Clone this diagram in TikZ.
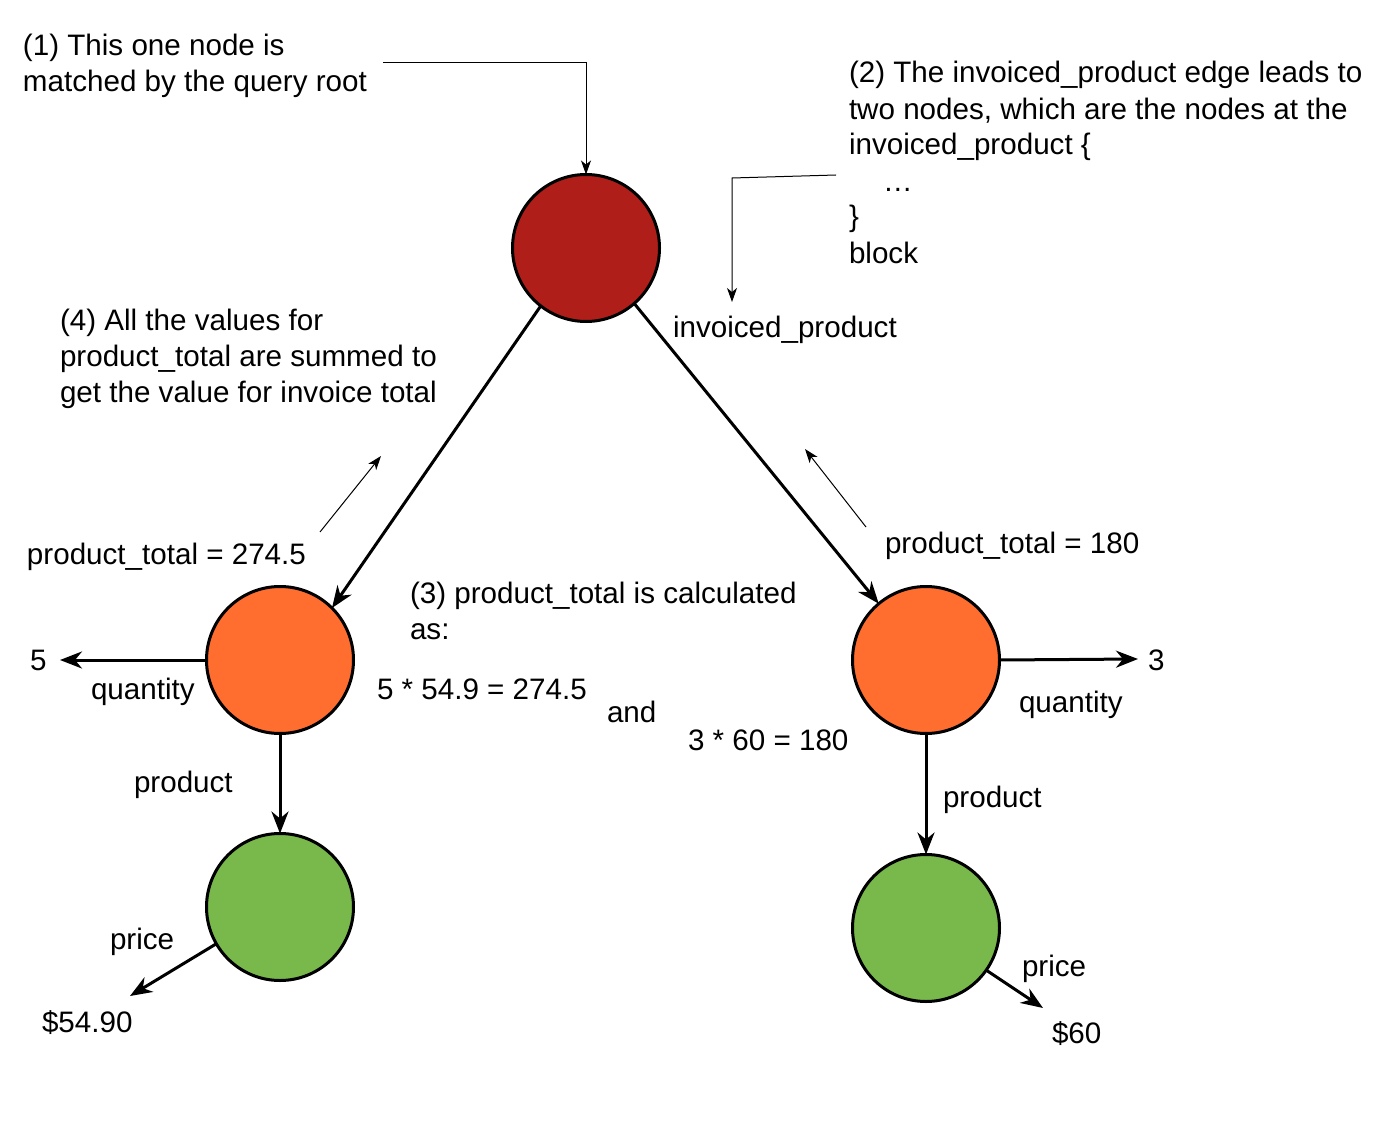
\documentclass[tikz,border=0pt]{standalone}
\usepackage{fontspec}
\setmainfont{Liberation Sans}
\usetikzlibrary{arrows.meta}
\definecolor{rootred}{HTML}{B01E1A}
\definecolor{midorange}{HTML}{FF6D2F}
\definecolor{leafgreen}{HTML}{79B84B}
\begin{document}
\begin{tikzpicture}[x=1pt,y=-1pt,
  every node/.style={font=\fontsize{29.6}{36}\selectfont, inner sep=0pt, outer sep=0pt},
  txt/.style={anchor=base west, align=left},
  ball/.style={circle, draw=black, line width=3pt, minimum size=147pt},
  edge/.style={line width=3pt, -{Stealth[length=22pt,width=17pt,inset=7pt]}},
  note/.style={line width=1pt, -{Stealth[length=14pt,width=10pt,inset=4pt]}}]
\useasboundingbox (0,0) rectangle (1398,1126);
\fill[white] (0,0) rectangle (1398,1126);

% circles
\node[ball, fill=rootred] (root) at (586,248) {};
\node[ball, fill=midorange] (lo) at (280,660) {};
\node[ball, fill=midorange] (ro) at (926,660) {};
\node[ball, fill=leafgreen] (lg) at (280,907) {};
\node[ball, fill=leafgreen] (rg) at (926,928) {};

% free ends
\coordinate (q5) at (60,660);
\coordinate (q3) at (1138,659);
\coordinate (pl) at (130,996);
\coordinate (pr) at (1043,1008);

% main edges
\draw[edge] (root.232) -- (lo.45);
\draw[edge] (root.-49) -- (ro.130);
\draw[edge] (lo.west) -- (q5);
\draw[edge] (ro.east) -- (q3);
\draw[edge] (lo.south) -- (lg.north);
\draw[edge] (ro.south) -- (rg.north);
\draw[edge] (lg.210) -- (pl);
\draw[edge] (rg.-35) -- (pr);

% annotation texts (base anchor = baseline of the last line)
\node[txt] (t1) at (23,92) {(1) This one node is\\matched by the query root};
\node[txt] (t2) at (849,263) {(2) The invoiced\_product edge leads to\\two nodes, which are the nodes at the\\invoiced\_product \{\\\hspace*{34pt}…\\\}\\block};
\node[txt] (t4) at (60,402) {(4) All the values for\\product\_total are summed to\\get the value for invoice total};
\node[txt] (t3) at (410,639) {(3) product\_total is calculated\\as:};
\node[txt] (ip) at (673,337) {invoiced\_product};
\node[txt] (ptl) at (27,564) {product\_total = 274.5};
\node[txt] (ptr) at (885,553) {product\_total = 180};
\node[txt] (c1) at (377,699) {5 * 54.9 = 274.5};
\node[txt] (and) at (607,722) {and};
\node[txt] (c2) at (688,750) {3 * 60 = 180};
\node[txt] (v5) at (30,670) {5};
\node[txt] (ql) at (91,699) {quantity};
\node[txt] (v3) at (1148,670) {3};
\node[txt] (qr) at (1019,712) {quantity};
\node[txt] (prl) at (134,792) {product};
\node[txt] (prr) at (943,807) {product};
\node[txt] (pcl) at (110,949) {price};
\node[txt] (vpl) at (42,1032) {\$54.90};
\node[txt] (pcr) at (1022,976) {price};
\node[txt] (vpr) at (1052,1043) {\$60};

% thin annotation connectors
\coordinate (n1s) at (383,63);
\coordinate (n2s) at (836,175);
\coordinate (n2b) at (732,178);
\coordinate (n2e) at (732,302);
\coordinate (n4s) at (320,532);
\coordinate (n4e) at (381,456);
\coordinate (nrs) at (866,527);
\coordinate (nre) at (805,449);
\draw[note] (n1s) -- (586,63) -- (root.north);
\draw[note] (n2s) -- (n2b) -- (n2e);
\draw[note] (n4s) -- (n4e);
\draw[note] (nrs) -- (nre);
\end{tikzpicture}
\end{document}
